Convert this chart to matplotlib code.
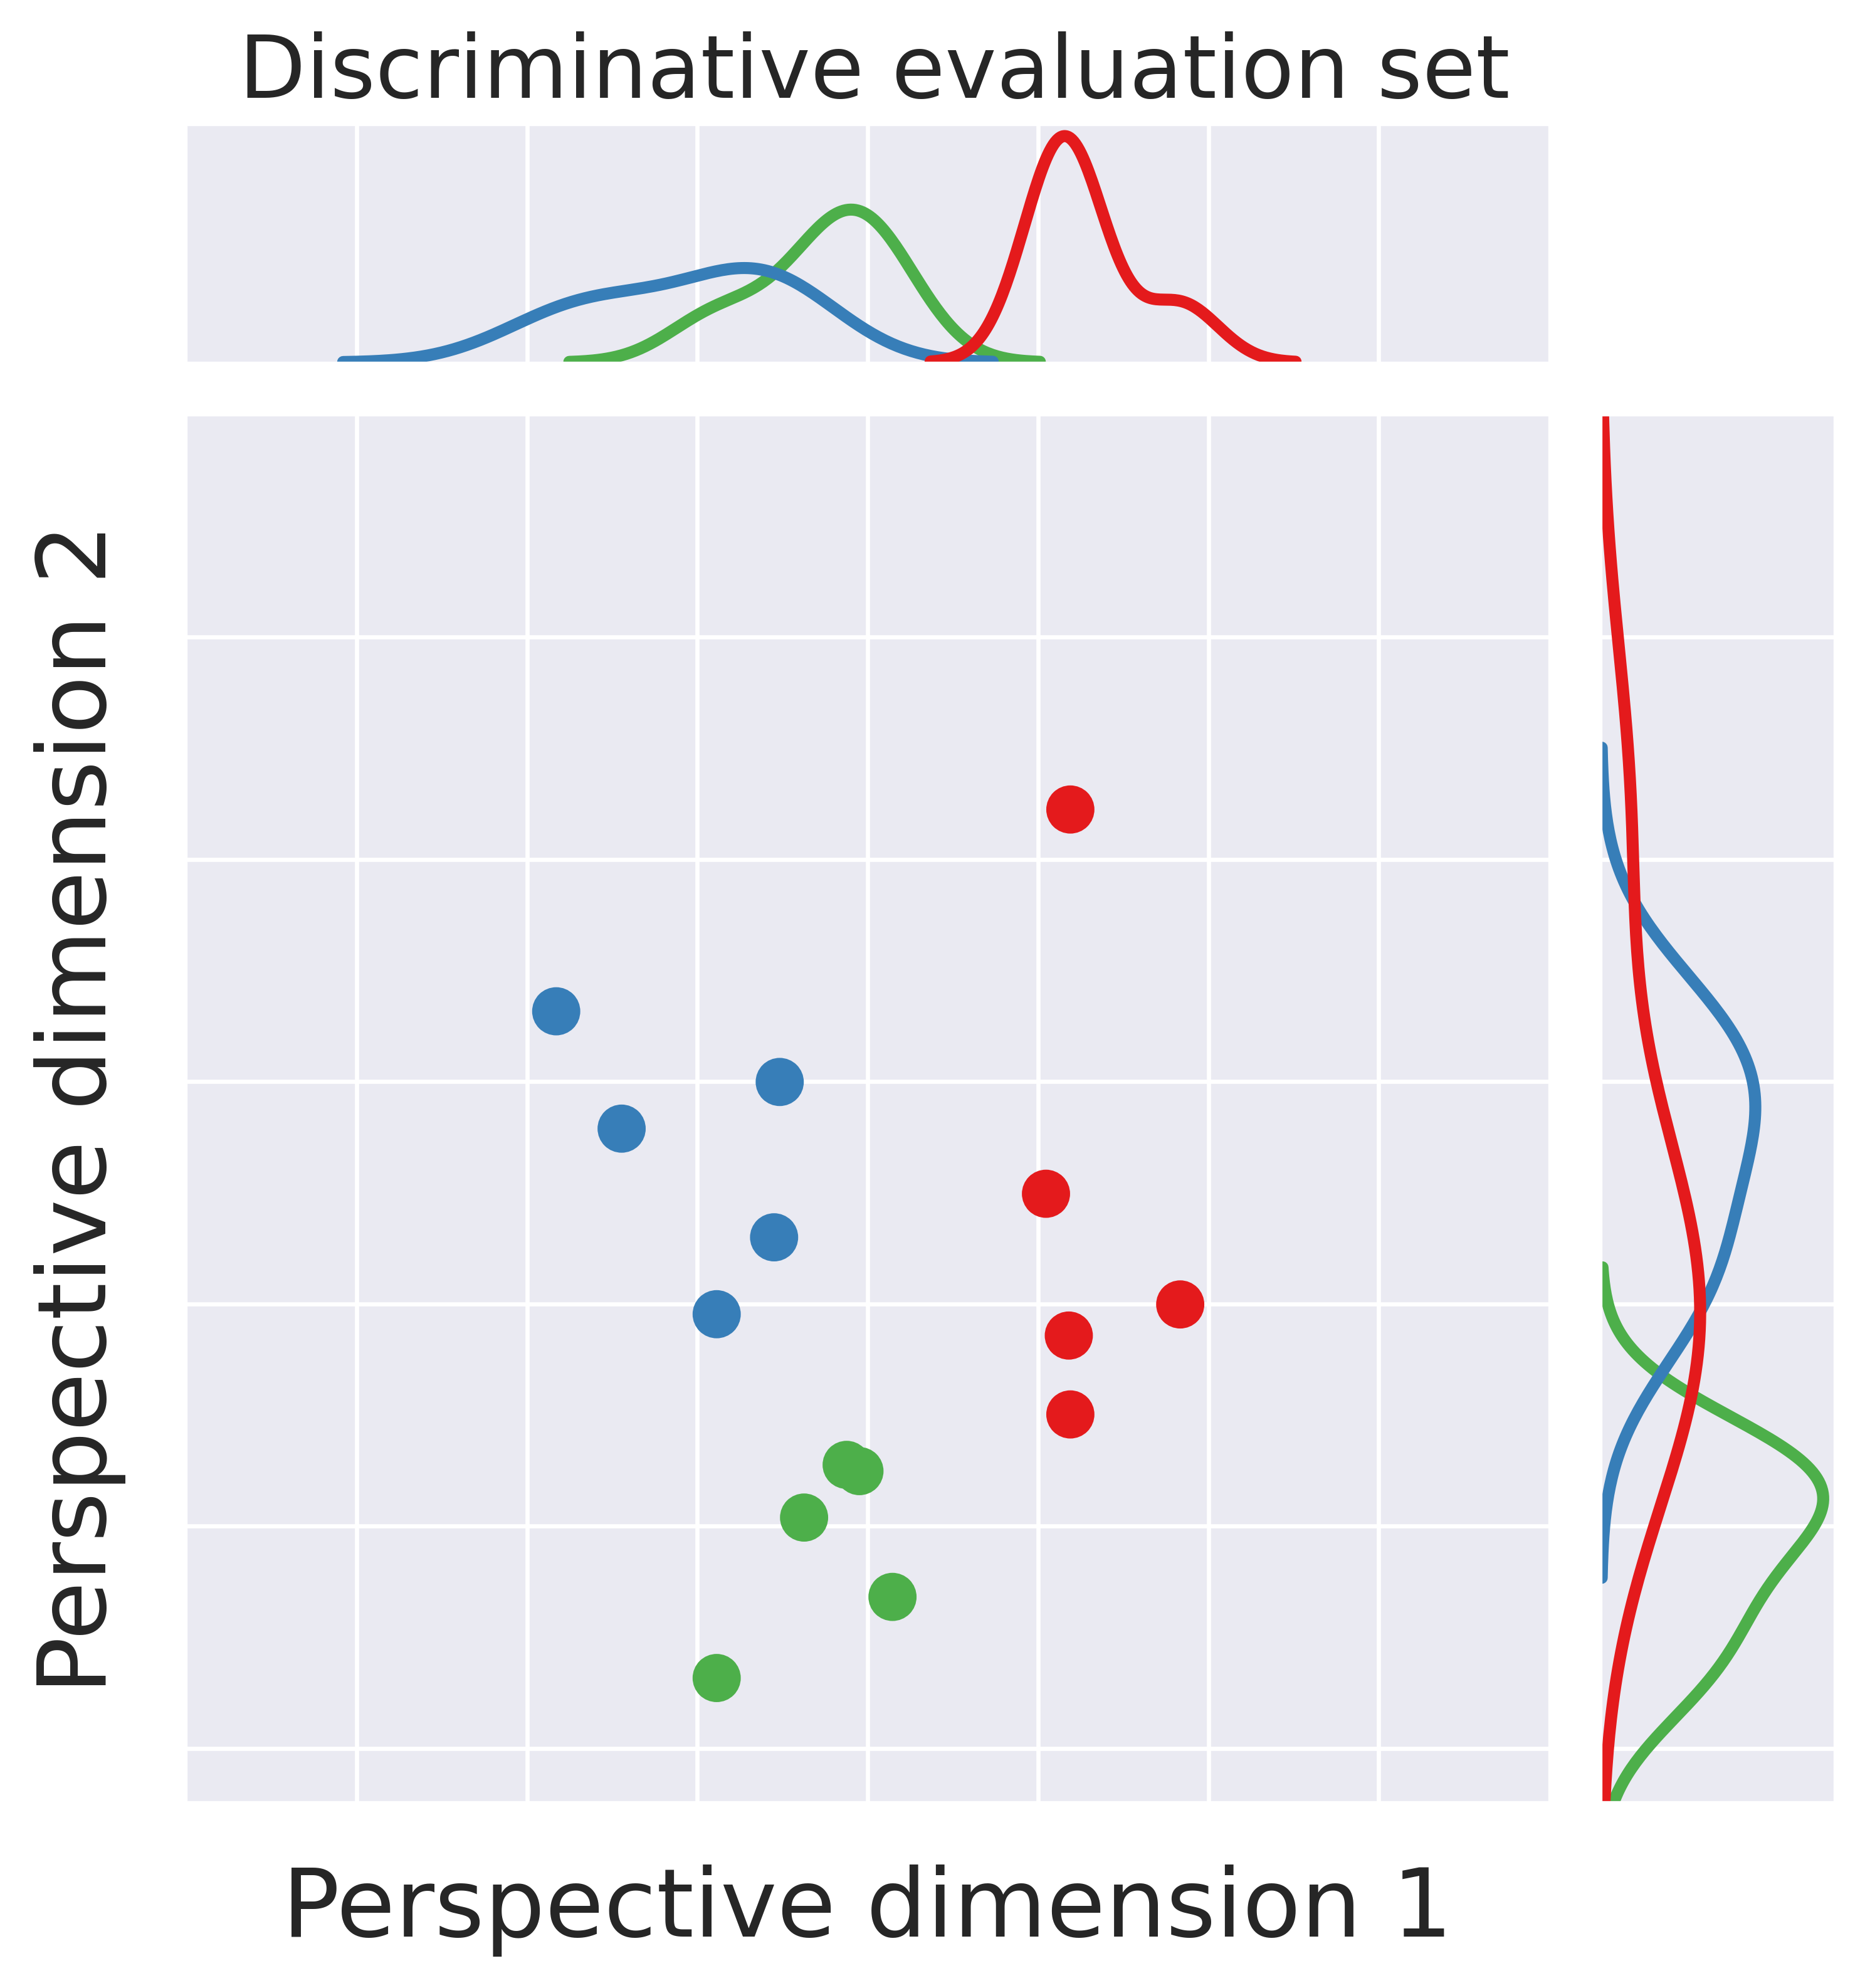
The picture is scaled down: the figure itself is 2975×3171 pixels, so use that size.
import numpy as np
import pandas as pd
import seaborn as sns
from matplotlib import pyplot as plt

# values (axis units are arbitrary, ticks are hidden)
group_names = ['group A', 'group B', 'group C']
group_colors = ['#e41a1c', '#377eb8', '#4daf4a']

red_x = [1.047, 1.835, 1.181, 1.190, 1.190]
red_y = [0.496, -0.002, -0.142, -0.497, 2.225]
blue_x = [-1.828, -0.516, -1.444, -0.549, -0.886]
blue_y = [1.317, 0.999, 0.789, 0.300, -0.046]
green_x = [-0.123, -0.048, -0.373, 0.146, -0.886]
green_y = [-0.724, -0.752, -0.961, -1.318, -1.683]

x_grid = [-3, -2, -1, 0, 1, 2, 3]
y_grid = [-2, -1, 0, 1, 2, 3]

df = pd.DataFrame({
    'dim1': red_x + blue_x + green_x,
    'dim2': red_y + blue_y + green_y,
    'group': [group_names[0]] * len(red_x) + [group_names[1]] * len(blue_x) + [group_names[2]] * len(green_x),
})
palette = dict(zip(group_names, group_colors))

sns.set_style('darkgrid')
plt.rcParams['font.family'] = ['DejaVu Sans']
plt.rcParams['grid.linewidth'] = 1.6

W, H = 2975, 3171
fig = plt.figure(figsize=(W / 300, H / 300), dpi=300)


def box(x0, y0, x1, y1):
    # pixel box (top-left origin) -> figure fraction rect
    return [x0 / W, 1 - y1 / H, (x1 - x0) / W, (y1 - y0) / H]


ax_joint = fig.add_axes(box(297, 662, 2471, 2874))
ax_top = fig.add_axes(box(297, 199, 2471, 578), sharex=ax_joint)
ax_right = fig.add_axes(box(2554, 662, 2926, 2874), sharey=ax_joint)

sns.scatterplot(data=df, x='dim1', y='dim2', hue='group', palette=palette,
                s=340, linewidth=0, ax=ax_joint, legend=False)
sns.kdeplot(data=df, x='dim1', hue='group', palette=palette, linewidth=4.6,
            ax=ax_top, legend=False)
sns.kdeplot(data=df, y='dim2', hue='group', palette=palette, linewidth=4.6,
            ax=ax_right, legend=False)

ax_joint.set_xlim(-4, 4)
ax_joint.set_ylim(-2.24, 4.0)
ax_joint.set_xticks(x_grid)
ax_joint.set_yticks(y_grid)
ax_joint.tick_params(labelbottom=False, labelleft=False, length=0)
ax_joint.set_xlabel('Perspective dimension 1', fontsize=36.6, labelpad=24)
ax_joint.set_ylabel('Perspective dimension 2', fontsize=36.6, labelpad=23)

ax_top.yaxis.grid(False)
ax_top.tick_params(labelbottom=False, labelleft=False, length=0)
ax_top.set_xlabel('')
ax_top.set_ylabel('')
ax_top.set_title('Discriminative evaluation set', fontsize=33.3, pad=10.3, x=0.505)

ax_right.xaxis.grid(False)
ax_right.tick_params(labelbottom=False, labelleft=False, length=0)
ax_right.set_xlabel('')
ax_right.set_ylabel('')

fig.savefig('out.png', dpi=300)
